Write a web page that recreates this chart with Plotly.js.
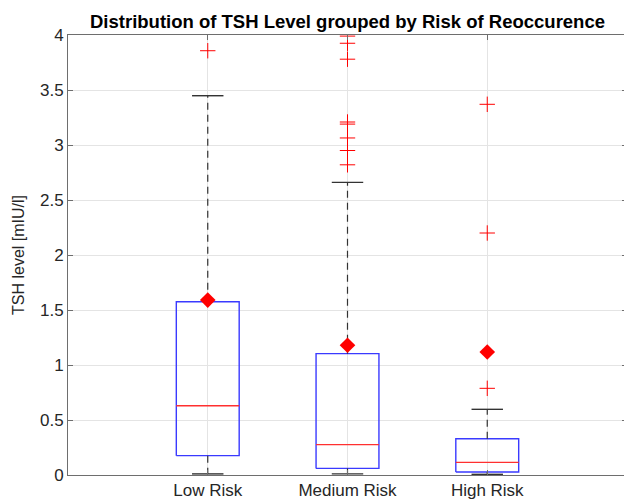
<!DOCTYPE html>
<html>
<head>
<meta charset="utf-8">
<script src="https://cdn.plot.ly/plotly-3.0.1.min.js"></script>
<style>
html, body { margin: 0; padding: 0; overflow: hidden; background: #fff; }
#chart { width: 628px; height: 503px; }
</style>
</head>
<body>
<div id="chart"></div>
<script>
// ---- data ----
const categories = ['Low Risk', 'Medium Risk', 'High Risk'];
const positions = [1, 2, 3];
const q1 = [0.176, 0.060, 0.027];
const medians = [0.630, 0.276, 0.115];
const q3 = [1.575, 1.103, 0.330];
const lowerWhisker = [0.010, 0.010, 0.006];
const upperWhisker = [3.448, 2.660, 0.597];
const means = [1.590, 1.180, 1.118];
const outliersLow = [3.857];
const outliersMedium = [3.99, 3.925, 3.78, 3.209, 3.19, 3.064, 2.95, 2.82];
const outliersHigh = [3.37, 2.20, 0.788];
const yTicks = [0, 0.5, 1, 1.5, 2, 2.5, 3, 3.5, 4];

// ---- style ----
const boxHalf = 0.225;
const capHalf = 0.1125;
const boxColor = '#3a3aff';
const medColor = '#ff3030';
const whiskColor = '#333333';

const traces = [];
const outlierGroups = [outliersLow, outliersMedium, outliersHigh];

positions.forEach((p, i) => {
  traces.push({
    type: 'scatter', mode: 'lines', hoverinfo: 'skip', showlegend: false,
    x: [p - boxHalf, p + boxHalf, p + boxHalf, p - boxHalf, p - boxHalf],
    y: [q1[i], q1[i], q3[i], q3[i], q1[i]],
    line: { color: boxColor, width: 1.4 }
  });
  traces.push({
    type: 'scatter', mode: 'lines', hoverinfo: 'skip', showlegend: false,
    x: [p - boxHalf, p + boxHalf], y: [medians[i], medians[i]],
    line: { color: medColor, width: 1.4 }
  });
  traces.push({
    type: 'scatter', mode: 'lines', hoverinfo: 'skip', showlegend: false,
    x: [p, p, null, p, p], y: [q3[i], upperWhisker[i], null, q1[i], lowerWhisker[i]],
    line: { color: whiskColor, width: 1.2, dash: '7px,5px' }
  });
  traces.push({
    type: 'scatter', mode: 'lines', hoverinfo: 'skip', showlegend: false,
    x: [p - capHalf, p + capHalf, null, p - capHalf, p + capHalf],
    y: [upperWhisker[i], upperWhisker[i], null, lowerWhisker[i], lowerWhisker[i]],
    line: { color: whiskColor, width: 1.4 }
  });
  traces.push({
    type: 'scatter', mode: 'markers', showlegend: false, cliponaxis: true,
    x: outlierGroups[i].map(() => p), y: outlierGroups[i],
    marker: { symbol: 'cross-thin-open', size: 11, color: '#ff0000', line: { color: '#ff0000', width: 1.0 } }
  });
});

traces.push({
  type: 'scatter', mode: 'markers', showlegend: false,
  x: positions, y: means,
  marker: { symbol: 'diamond', size: 12, color: '#ff0000', line: { width: 0 } }
});

const layout = {
  width: 628, height: 503,
  margin: { l: 68, r: 1, t: 35, b: 28 },
  paper_bgcolor: '#ffffff', plot_bgcolor: '#ffffff',
  font: { family: 'Liberation Sans, Arial, sans-serif', color: '#262626', size: 16 },
  title: {
    text: 'Distribution of TSH Level grouped by Risk of Reoccurence',
    font: { family: 'Liberation Sans, Arial, sans-serif', size: 18.5, color: '#000000', weight: 'bold' },
    x: 0.5, xanchor: 'center', xref: 'paper', y: 1, yref: 'paper', yanchor: 'bottom',
    pad: { b: 7 }
  },
  xaxis: {
    range: [0, 4], tickmode: 'array', tickvals: positions, ticktext: categories,
    showgrid: true, gridcolor: '#e4e4e4', gridwidth: 1,
    zeroline: false, showline: true, linecolor: '#6e6e6e', linewidth: 1, mirror: 'ticks',
    ticks: 'inside', ticklen: 5, tickcolor: '#6e6e6e',
    tickfont: { size: 17, color: '#262626' }, fixedrange: true
  },
  yaxis: {
    range: [0, 4], tickmode: 'array', tickvals: yTicks, ticktext: yTicks.map(String),
    showgrid: true, gridcolor: '#e4e4e4', gridwidth: 1,
    zeroline: false, showline: true, linecolor: '#6e6e6e', linewidth: 1, mirror: 'ticks',
    ticks: 'inside', ticklen: 5, tickcolor: '#6e6e6e',
    tickfont: { size: 17, color: '#262626' },
    title: { text: 'TSH level [mIU/l]', font: { size: 16, color: '#262626' }, standoff: 11 },
    fixedrange: true
  }
};

Plotly.newPlot('chart', traces, layout, { displayModeBar: false, staticPlot: true });
</script>
</body>
</html>
